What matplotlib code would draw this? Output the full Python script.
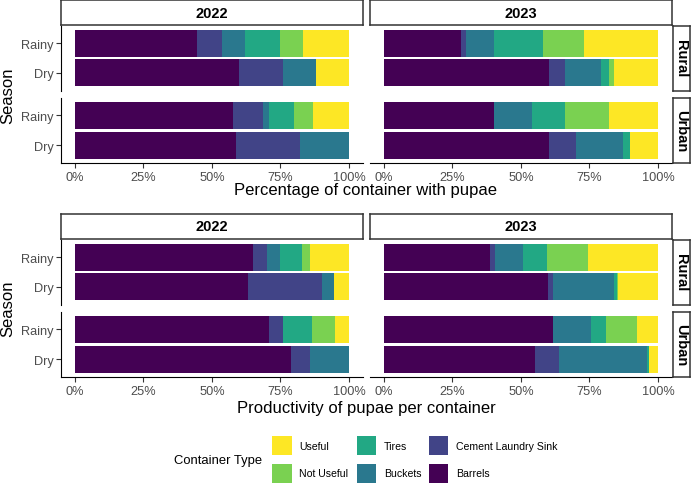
import matplotlib.pyplot as plt
from matplotlib.patches import Rectangle

plt.rcParams['font.family'] = ['Liberation Sans', 'DejaVu Sans']

categories = ["Barrels", "Cement Laundry Sink", "Buckets", "Tires", "Not Useful", "Useful"]
colors = ["#440154", "#414487", "#2A788E", "#22A884", "#7AD151", "#FDE725"]
seasons = ["Dry", "Rainy"]
years = ["2022", "2023"]
areas = ["Rural", "Urban"]

# percentage of containers with pupae, rows = Dry, Rainy
pct_2022_rural = [[60.0, 15.9, 12.1, 0.0, 0.0, 12.0], [44.5, 9.3, 8.3, 12.9, 8.4, 16.6]]
pct_2022_urban = [[58.7, 23.6, 17.7, 0.0, 0.0, 0.0], [57.8, 11.0, 2.2, 9.0, 6.8, 13.2]]
pct_2023_rural = [[60.3, 5.9, 13.2, 2.9, 1.5, 16.2], [28.1, 1.9, 10.1, 17.9, 14.9, 27.1]]
pct_2023_urban = [[60.2, 9.8, 17.4, 2.5, 0.0, 10.1], [40.1, 0.0, 14.0, 11.9, 16.3, 17.7]]

# productivity of pupae per container
prod_2022_rural = [[63.0, 27.1, 4.3, 0.0, 0.0, 5.6], [65.0, 5.1, 4.8, 7.8, 3.0, 14.3]]
prod_2022_urban = [[79.0, 6.9, 14.1, 0.0, 0.0, 0.0], [70.7, 5.2, 0.0, 10.6, 8.3, 5.2]]
prod_2023_rural = [[59.9, 1.7, 22.5, 0.8, 0.6, 14.5], [38.9, 1.5, 10.3, 9.0, 14.8, 25.5]]
prod_2023_urban = [[55.1, 8.7, 32.2, 0.7, 0.0, 3.3], [61.6, 0.0, 13.8, 5.8, 11.2, 7.6]]

W, H = 699, 485
fig = plt.figure(figsize=(W / 100, H / 100), dpi=100)


def box(x0, y0, x1, y1):
    return [x0 / W, 1 - y1 / H, (x1 - x0) / W, (y1 - y0) / H]


def strip(x0, y0, x1, y1, label, rot=0):
    s = fig.add_axes(box(x0, y0, x1, y1))
    s.set_xticks([])
    s.set_yticks([])
    for sp in s.spines.values():
        sp.set_color("#333333")
        sp.set_linewidth(1.1)
    s.text(0.5, 0.5, label, transform=s.transAxes, ha="center", va="center",
           fontsize=10.5, fontweight="bold", rotation=rot)


cols_x = [(61, 362.7), (370, 671.7)]
tick_col = "#4D4D4D"


def block(data, top, xlabel, label_off):
    # data[year][area] -> rows per season
    y_strip = (top, top + 25)
    rows_y = [(top + 25.5, top + 90.5), (top + 97.5, top + 163)]
    for ci, yr in enumerate(years):
        x0, x1 = cols_x[ci]
        strip(x0, y_strip[0], x1, y_strip[1], yr)
        for ri, ar in enumerate(areas):
            y0, y1 = rows_y[ri]
            ax = fig.add_axes(box(x0, y0, x1, y1))
            rows = data[ci][ri]
            for si in range(len(seasons)):
                left = 0.0
                for k in range(len(categories)):
                    v = rows[si][k] / 100
                    ax.barh(si, v, left=left, height=0.9, color=colors[k], linewidth=0)
                    left += v
            ax.set_xlim(-0.05, 1.05)
            ax.set_ylim(-0.6, 1.6)
            ax.spines["top"].set_visible(False)
            ax.spines["right"].set_visible(False)
            ax.tick_params(colors="#333333", labelcolor=tick_col, labelsize=9.2,
                           length=3.5, width=0.8, pad=2)
            ax.set_xticks([0, 0.25, 0.5, 0.75, 1.0])
            ax.set_xticklabels(["0%", "25%", "50%", "75%", "100%"])
            if ci == 0:
                ax.set_yticks([0, 1])
                ax.set_yticklabels(seasons)
                ax.spines["left"].set_color("black")
            else:
                ax.set_yticks([])
                ax.spines["left"].set_visible(False)
            if ri == 0:
                ax.spines["bottom"].set_visible(False)
                ax.tick_params(axis="x", bottom=False, labelbottom=False)
            else:
                ax.spines["bottom"].set_color("black")
            if ci == 1:
                strip(672.7, y0, 690, y1, ar, rot=-90)
    fig.text(8 / W, 1 - ((rows_y[0][0] + rows_y[1][1]) / 2) / H, "Season",
             rotation=90, ha="center", va="center", fontsize=12)
    fig.text(366 / W, 1 - (top + label_off) / H, xlabel, ha="center", va="center", fontsize=12)


block([[pct_2022_rural, pct_2022_urban], [pct_2023_rural, pct_2023_urban]],
      1, "Percentage of container with pupae", 189.5)
block([[prod_2022_rural, prod_2022_urban], [prod_2023_rural, prod_2023_urban]],
      215, "Productivity of pupae per container", 194)

# legend, filled column by column
legend_order = ["Useful", "Not Useful", "Tires", "Buckets", "Cement Laundry Sink", "Barrels"]
key_x = [272, 356.7, 428.7]
key_y = [437.3, 465]
fig.text(174 / W, 1 - 461 / H, "Container Type", ha="left", va="center", fontsize=9.4)
for i, name in enumerate(legend_order):
    c = colors[categories.index(name)]
    kx = key_x[i // 2]
    ky = key_y[i % 2]
    fig.patches.append(Rectangle((kx / W, 1 - (ky + 19) / H), 19.5 / W, 19 / H,
                                 transform=fig.transFigure, facecolor=c, edgecolor="none"))
    fig.text((kx + 27) / W, 1 - (ky + 9.5) / H, name, ha="left", va="center", fontsize=7.6)

fig.savefig("out.png", dpi=100)
